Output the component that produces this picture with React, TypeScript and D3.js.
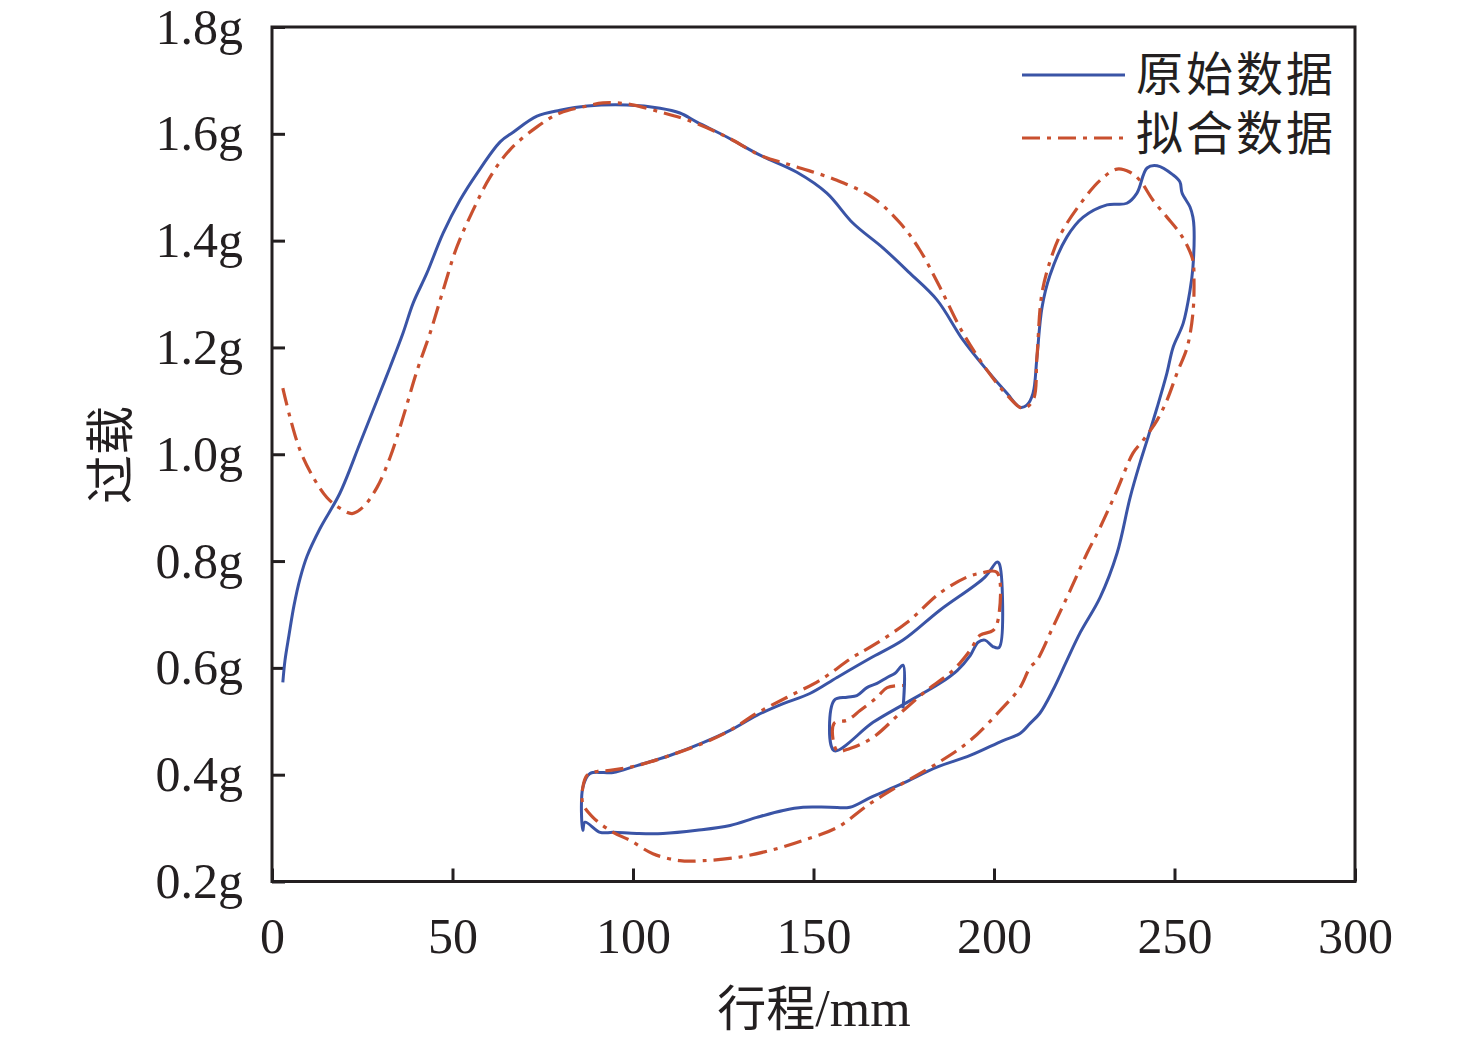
import { useEffect, useRef } from 'react';
import * as d3 from 'd3';

// 原始数据 (stroke mm, overload g), in drawing order
const rawStroke = [
  3.0, 3.6, 4.7, 6.1, 7.8, 9.7, 13.3, 18.8, 24.4, 29.1, 32.7, 36.3, 39.1, 42.9, 47.4, 52.1,
  56.8, 63.2, 66.8, 73.4, 79.8, 87.3, 98.3, 107.5, 113.0, 117.7, 126.0, 135.2, 145.4, 153.7,
  160.9, 169.3, 176.7, 184.2, 191.4, 198.1, 203.6, 207.2, 209.1, 210.8, 211.9, 213.3, 215.5,
  220.2, 224.7, 231.3, 236.8, 239.6, 242.4, 245.2, 249.6, 251.5, 252.1, 254.3, 255.1, 255.4,
  255.1, 254.3, 252.4, 249.6, 247.9, 245.2, 242.4, 240.4, 237.7, 234.1, 229.4, 223.8, 220.2,
  216.3, 212.7, 210.0, 207.2, 202.5, 193.4, 184.2, 174.8, 165.7, 160.1, 154.6, 147.1, 141.6,
  134.3, 126.9, 117.7, 108.3, 101.1, 94.5, 90.9, 86.7, 86.1, 86.1, 88.1, 91.7, 94.5, 101.1,
  110.2, 119.4, 126.9, 134.3, 141.6, 149.0, 156.5, 165.7, 174.8, 185.0, 197.5, 200.8, 201.4,
  201.4, 199.7, 197.5, 195.6, 193.4, 189.8, 185.0, 175.3, 166.5, 155.7, 155.7, 159.3, 162.0,
  164.8, 167.6, 170.4, 172.6, 174.8, 174.8,
];
const rawLoad = [
  0.573, 0.614, 0.661, 0.717, 0.768, 0.809, 0.861, 0.927, 1.021, 1.101, 1.163, 1.227, 1.283,
  1.339, 1.414, 1.476, 1.526, 1.585, 1.603, 1.633, 1.644, 1.652, 1.654, 1.648, 1.639, 1.622,
  1.594, 1.560, 1.528, 1.489, 1.433, 1.386, 1.339, 1.289, 1.214, 1.157, 1.114, 1.088, 1.092,
  1.114, 1.182, 1.275, 1.335, 1.407, 1.444, 1.467, 1.470, 1.489, 1.536, 1.540, 1.523, 1.510,
  1.489, 1.463, 1.444, 1.425, 1.350, 1.307, 1.245, 1.200, 1.152, 1.088, 1.026, 0.983, 0.919,
  0.815, 0.732, 0.665, 0.614, 0.558, 0.515, 0.496, 0.477, 0.464, 0.436, 0.414, 0.384, 0.357,
  0.339, 0.339, 0.339, 0.333, 0.320, 0.305, 0.296, 0.290, 0.290, 0.292, 0.292, 0.311, 0.296,
  0.376, 0.402, 0.404, 0.404, 0.417, 0.436, 0.460, 0.483, 0.511, 0.533, 0.552, 0.582, 0.618,
  0.652, 0.708, 0.770, 0.798, 0.796, 0.638, 0.640, 0.652, 0.648, 0.623, 0.595, 0.571, 0.533,
  0.498, 0.445, 0.539, 0.545, 0.548, 0.563, 0.571, 0.582, 0.590, 0.605, 0.524,
];

// 拟合数据 (stroke mm, overload g), in drawing order
const fitStroke = [
  3.0, 5.0, 7.8, 11.4, 15.2, 18.8, 22.2, 25.2, 29.1, 32.7, 36.3, 40.2, 43.8, 47.4, 51.2, 55.7,
  60.4, 65.9, 73.4, 79.8, 87.3, 91.7, 98.3, 107.5, 115.0, 126.0, 135.2, 145.4, 156.5, 166.5,
  174.0, 179.5, 185.0, 191.4, 198.1, 203.6, 208.0, 210.8, 211.9, 213.3, 216.3, 219.1, 224.7,
  229.4, 234.1, 237.7, 240.4, 244.0, 247.9, 251.5, 253.7, 255.1, 255.4, 255.1, 253.5, 250.7,
  247.9, 245.2, 241.3, 238.5, 234.1, 229.4, 225.8, 221.1, 216.3, 211.9, 210.0, 207.2, 202.5,
  193.4, 184.2, 174.8, 165.7, 156.5, 147.1, 137.9, 128.8, 119.4, 113.0, 105.5, 99.2, 94.5,
  88.9, 86.1, 86.1, 87.3, 90.0, 93.6, 101.1, 110.2, 119.4, 126.9, 134.3, 142.7, 151.8, 160.9,
  166.5, 175.9, 185.0, 192.5, 196.1, 200.8, 201.1, 199.7, 196.1, 193.4, 188.6, 181.4, 174.0,
  166.5, 160.1, 156.5, 155.7, 159.3, 162.9, 167.6, 170.4, 174.8,
];
const fitLoad = [
  1.124, 1.069, 1.007, 0.957, 0.919, 0.899, 0.889, 0.901, 0.938, 0.994, 1.069, 1.157, 1.227,
  1.307, 1.388, 1.457, 1.519, 1.570, 1.613, 1.639, 1.652, 1.658, 1.656, 1.641, 1.626, 1.594,
  1.560, 1.538, 1.513, 1.480, 1.433, 1.382, 1.313, 1.227, 1.157, 1.111, 1.086, 1.101, 1.182,
  1.302, 1.377, 1.420, 1.476, 1.513, 1.534, 1.528, 1.513, 1.476, 1.444, 1.414, 1.388, 1.363,
  1.326, 1.264, 1.200, 1.152, 1.101, 1.064, 1.026, 1.002, 0.933, 0.863, 0.815, 0.745, 0.676,
  0.614, 0.601, 0.563, 0.526, 0.464, 0.421, 0.384, 0.346, 0.301, 0.277, 0.258, 0.245, 0.239,
  0.239, 0.252, 0.277, 0.292, 0.320, 0.346, 0.376, 0.399, 0.406, 0.408, 0.417, 0.436, 0.459,
  0.483, 0.515, 0.545, 0.577, 0.620, 0.642, 0.685, 0.740, 0.770, 0.777, 0.779, 0.689, 0.670,
  0.661, 0.633, 0.595, 0.558, 0.515, 0.470, 0.449, 0.445, 0.496, 0.502, 0.520, 0.545, 0.563,
  0.567,
];

const xTicks = [0, 50, 100, 150, 200, 250, 300];
const yTicks = [0.2, 0.4, 0.6, 0.8, 1.0, 1.2, 1.4, 1.6, 1.8];
const seriesNames = ['原始数据', '拟合数据'];
const xTitleCjk = '行程';
const xTitleUnit = '/mm';
const yTitle = '过载';

const INK = '#231f20';
const BLUE = '#3a54a6';
const RED = '#c9502f';
const SERIF = "'Liberation Serif', 'Times New Roman', serif";
const CJK = "'Noto Sans CJK SC', sans-serif";

export default function App() {
  const svgRef = useRef<SVGSVGElement>(null);

  useEffect(() => {
    if (!svgRef.current) return;
    const svg = d3.select(svgRef.current);
    svg.selectAll('*').remove();

    const left = 272, right = 1355, top = 27, bottom = 881.5;
    const x = d3.scaleLinear().domain([0, 300]).range([left, right]);
    const y = d3.scaleLinear().domain([0.2, 1.8]).range([bottom, top]);

    // axes with inward ticks
    const yAxis = svg.append('g')
      .attr('transform', `translate(${left},0)`)
      .call(d3.axisLeft(y).tickValues(yTicks).tickSize(-13).tickPadding(29)
        .tickFormat(d => `${(+d).toFixed(1)}g`));
    const xAxis = svg.append('g')
      .attr('transform', `translate(0,${bottom})`)
      .call(d3.axisBottom(x).tickValues(xTicks).tickSize(-13).tickPadding(36)
        .tickFormat(d => `${d}`));

    [yAxis, xAxis].forEach(ax => {
      ax.select('.domain').remove();
      ax.selectAll('line').attr('stroke', INK).attr('stroke-width', 3);
      ax.selectAll('text')
        .attr('fill', INK)
        .style('font-family', SERIF)
        .style('font-size', '50px');
    });

    // frame
    svg.append('rect')
      .attr('x', left).attr('y', top)
      .attr('width', right - left).attr('height', bottom - top)
      .attr('fill', 'none').attr('stroke', INK).attr('stroke-width', 3);

    const line = d3.line<[number, number]>()
      .x(d => x(d[0]))
      .y(d => y(d[1]))
      .curve(d3.curveCatmullRom.alpha(0.5));

    const rawPts = rawStroke.map((s, i) => [s, rawLoad[i]] as [number, number]);
    const fitPts = fitStroke.map((s, i) => [s, fitLoad[i]] as [number, number]);

    svg.append('path')
      .attr('d', line(rawPts))
      .attr('fill', 'none')
      .attr('stroke', BLUE)
      .attr('stroke-width', 3)
      .attr('stroke-linejoin', 'round');

    svg.append('path')
      .attr('d', line(fitPts))
      .attr('fill', 'none')
      .attr('stroke', RED)
      .attr('stroke-width', 3.2)
      .attr('stroke-dasharray', '18,7,4,7');

    // legend
    const legend = svg.append('g');
    const rows = [
      { name: seriesNames[0], color: BLUE, dash: null, ly: 75, ty: 70 },
      { name: seriesNames[1], color: RED, dash: '18,7,4,7', ly: 138, ty: 129 },
    ];
    rows.forEach(r => {
      legend.append('line')
        .attr('x1', 1022).attr('x2', 1125)
        .attr('y1', r.ly).attr('y2', r.ly)
        .attr('stroke', r.color)
        .attr('stroke-width', 3.2)
        .attr('stroke-dasharray', r.dash);
      legend.append('text')
        .attr('x', 1136).attr('y', r.ty)
        .attr('dominant-baseline', 'central')
        .attr('fill', INK)
        .style('font-family', CJK)
        .style('font-size', '47px')
        .style('letter-spacing', '3px')
        .text(r.name);
    });

    // axis titles
    const xt = svg.append('text')
      .attr('x', 814).attr('y', 1026)
      .attr('text-anchor', 'middle')
      .attr('fill', INK)
      .style('font-size', '49px');
    xt.append('tspan').style('font-family', CJK).text(xTitleCjk);
    xt.append('tspan').style('font-family', SERIF).style('font-size', '52px').text(xTitleUnit);

    svg.append('text')
      .attr('transform', 'translate(106,455) rotate(-90)')
      .attr('text-anchor', 'middle')
      .attr('dominant-baseline', 'central')
      .attr('fill', INK)
      .style('font-family', CJK)
      .style('font-size', '49px')
      .text(yTitle);
  }, []);

  return (
    <svg
      ref={svgRef}
      width={1476}
      height={1041}
      style={{ position: 'absolute', left: 0, top: 0, background: '#fff' }}
    />
  );
}
